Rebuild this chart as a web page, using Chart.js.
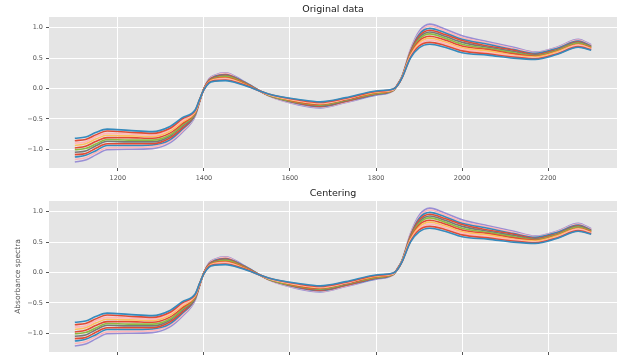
<!DOCTYPE html>
<html>
<head>
<meta charset="utf-8">
<script src="https://cdn.jsdelivr.net/npm/chart.js@4.4.0/dist/chart.umd.min.js"></script>
<style>
  html, body { margin: 0; padding: 0; background: #fff; overflow: hidden; width: 620px; height: 356px; }
  canvas { position: absolute; left: 0; }
  #topChart { top: 0; }
  #bottomChart { top: 184px; }
</style>
</head>
<body>
<canvas id="topChart" width="620" height="185"></canvas>
<canvas id="bottomChart" width="620" height="185"></canvas>
<script>
const wavelengths = [1100, 1125, 1150, 1175, 1225, 1280, 1320, 1350, 1380, 1390, 1400, 1412, 1425, 1450, 1490, 1550, 1620, 1670,
  1730, 1800, 1840, 1850, 1860, 1880, 1900, 1925, 1960, 2000, 2060, 2120, 2170, 2220, 2270, 2300];

// absorbance of each sample
const sample01 = [-0.82,-0.80,-0.72,-0.67,-0.69,-0.71,-0.63,-0.48,-0.35,-0.18,-0.02,0.09,0.12,0.13,0.06,-0.09,-0.18,-0.22,-0.15,-0.04,-0.01,0.05,0.17,0.50,0.67,0.73,0.68,0.59,0.55,0.50,0.48,0.56,0.68,0.63];
const sample02 = [-0.86,-0.84,-0.76,-0.70,-0.72,-0.74,-0.66,-0.50,-0.36,-0.18,-0.02,0.10,0.13,0.14,0.07,-0.09,-0.19,-0.23,-0.16,-0.05,-0.01,0.05,0.17,0.51,0.70,0.76,0.71,0.62,0.57,0.52,0.49,0.57,0.69,0.64];
const sample03 = [-0.90,-0.88,-0.79,-0.74,-0.75,-0.77,-0.68,-0.53,-0.37,-0.19,-0.02,0.10,0.14,0.16,0.07,-0.10,-0.20,-0.24,-0.17,-0.05,-0.02,0.05,0.17,0.53,0.72,0.80,0.74,0.65,0.59,0.54,0.50,0.58,0.71,0.65];
const sample04 = [-0.94,-0.91,-0.83,-0.77,-0.78,-0.79,-0.71,-0.55,-0.38,-0.19,-0.01,0.11,0.15,0.17,0.08,-0.10,-0.21,-0.25,-0.17,-0.06,-0.02,0.05,0.18,0.54,0.75,0.83,0.77,0.67,0.62,0.55,0.52,0.60,0.72,0.66];
const sample05 = [-0.98,-0.95,-0.87,-0.81,-0.81,-0.82,-0.74,-0.58,-0.39,-0.20,-0.01,0.12,0.16,0.18,0.09,-0.10,-0.22,-0.26,-0.18,-0.07,-0.02,0.06,0.18,0.56,0.78,0.86,0.80,0.70,0.64,0.57,0.53,0.61,0.73,0.67];
const sample06 = [-1.01,-0.99,-0.91,-0.84,-0.85,-0.85,-0.77,-0.60,-0.40,-0.20,-0.01,0.12,0.17,0.20,0.10,-0.11,-0.23,-0.27,-0.19,-0.08,-0.03,0.06,0.18,0.57,0.81,0.90,0.83,0.73,0.66,0.59,0.54,0.62,0.75,0.68];
const sample07 = [-1.05,-1.03,-0.94,-0.87,-0.88,-0.88,-0.79,-0.62,-0.41,-0.20,-0.01,0.13,0.18,0.21,0.10,-0.11,-0.23,-0.28,-0.20,-0.08,-0.03,0.06,0.18,0.58,0.83,0.93,0.86,0.76,0.68,0.61,0.55,0.63,0.76,0.68];
const sample08 = [-1.09,-1.07,-0.98,-0.91,-0.91,-0.91,-0.82,-0.65,-0.42,-0.21,0.00,0.14,0.19,0.22,0.11,-0.11,-0.24,-0.29,-0.21,-0.09,-0.03,0.06,0.18,0.60,0.86,0.96,0.89,0.79,0.70,0.63,0.56,0.64,0.77,0.69];
const sample09 = [-1.13,-1.10,-1.02,-0.94,-0.94,-0.93,-0.85,-0.67,-0.43,-0.21,0.00,0.14,0.20,0.23,0.12,-0.11,-0.25,-0.30,-0.21,-0.10,-0.03,0.06,0.19,0.61,0.89,0.99,0.92,0.81,0.73,0.64,0.58,0.66,0.78,0.70];
const sample10 = [-1.17,-1.14,-1.05,-0.98,-0.97,-0.96,-0.87,-0.70,-0.44,-0.22,0.00,0.15,0.21,0.25,0.12,-0.12,-0.26,-0.31,-0.22,-0.10,-0.04,0.07,0.19,0.63,0.91,1.03,0.95,0.84,0.75,0.66,0.59,0.67,0.80,0.71];
const sample11 = [-1.21,-1.18,-1.09,-1.01,-1.00,-0.99,-0.90,-0.72,-0.45,-0.22,0.00,0.16,0.22,0.26,0.13,-0.12,-0.27,-0.32,-0.23,-0.11,-0.04,0.07,0.19,0.64,0.94,1.06,0.98,0.87,0.77,0.68,0.60,0.68,0.81,0.72];

const spectra = [sample01, sample02, sample03, sample04, sample05, sample06, sample07, sample08, sample09, sample10, sample11];
const lineColors = ['#348ABD', '#E24A33', '#FFB5B8', '#FBC15E', '#E24A33', '#8EBA42', '#777777', '#E24A33', '#348ABD', '#FFB5B8', '#988ED5'];

const xTicks = [1200, 1400, 1600, 1800, 2000, 2200];
const yTicks = [-1.0, -0.5, 0.0, 0.5, 1.0];

// grey panel behind the lines, like matplotlib's ggplot style
const panelBg = {
  id: 'panelBg',
  beforeDraw(chart) {
    const { ctx, chartArea: a } = chart;
    ctx.save();
    ctx.fillStyle = '#E5E5E5';
    ctx.fillRect(a.left, a.top, a.right - a.left, a.bottom - a.top);
    ctx.restore();
  }
};

// title centred over the plot area
const panelTitle = {
  id: 'panelTitle',
  afterDraw(chart, args, opts) {
    const { ctx, chartArea: a } = chart;
    ctx.save();
    ctx.font = '9.5px "DejaVu Sans"';
    ctx.fillStyle = '#222';
    ctx.textAlign = 'center';
    ctx.textBaseline = 'middle';
    ctx.fillText(opts.text, (a.left + a.right) / 2, 9.7);
    ctx.restore();
  }
};

const tickFont = { family: 'DejaVu Sans', size: 6.5 };

function makeChart(id, title, yLabel) {
  const ctx = document.getElementById(id).getContext('2d');
  return new Chart(ctx, {
    type: 'line',
    data: {
      datasets: spectra.map((s, i) => ({
        data: wavelengths.map((w, j) => ({ x: w, y: s[j] })),
        borderColor: lineColors[i],
        borderWidth: 1.6,
        pointRadius: 0,
        fill: false,
        cubicInterpolationMode: 'monotone'
      }))
    },
    options: {
      responsive: false,
      animation: false,
      events: [],
      layout: { padding: { top: 17, right: 3, left: 0, bottom: 0 } },
      plugins: {
        legend: { display: false },
        tooltip: { enabled: false },
        panelTitle: { text: title }
      },
      scales: {
        x: {
          type: 'linear',
          min: 1040,
          max: 2360,
          afterBuildTicks: s => { s.ticks = xTicks.map(v => ({ value: v })); },
          afterFit: s => { s.height = 17; },
          grid: { color: '#FFFFFF', lineWidth: 1, tickColor: '#555555', tickLength: 3 },
          border: { display: false },
          ticks: { font: tickFont, color: '#555555', padding: 3, maxRotation: 0, callback: v => String(v) }
        },
        y: {
          min: -1.31,
          max: 1.178,
          afterBuildTicks: s => { s.ticks = yTicks.map(v => ({ value: v })); },
          afterFit: s => { s.width = 49; },
          grid: { color: '#FFFFFF', lineWidth: 1, tickColor: '#555555', tickLength: 3 },
          border: { display: false },
          ticks: { font: tickFont, color: '#555555', padding: 3, callback: v => v.toFixed(1).replace('-', '\u2212') },
          title: {
            display: !!yLabel,
            text: yLabel || '',
            color: '#555555',
            font: { family: 'DejaVu Sans', size: 7.5 },
            padding: { top: 14, bottom: 0 }
          }
        }
      }
    },
    plugins: [panelBg, panelTitle]
  });
}

makeChart('topChart', 'Original data', null);
makeChart('bottomChart', 'Centering', 'Absorbance spectra');
</script>
</body>
</html>
